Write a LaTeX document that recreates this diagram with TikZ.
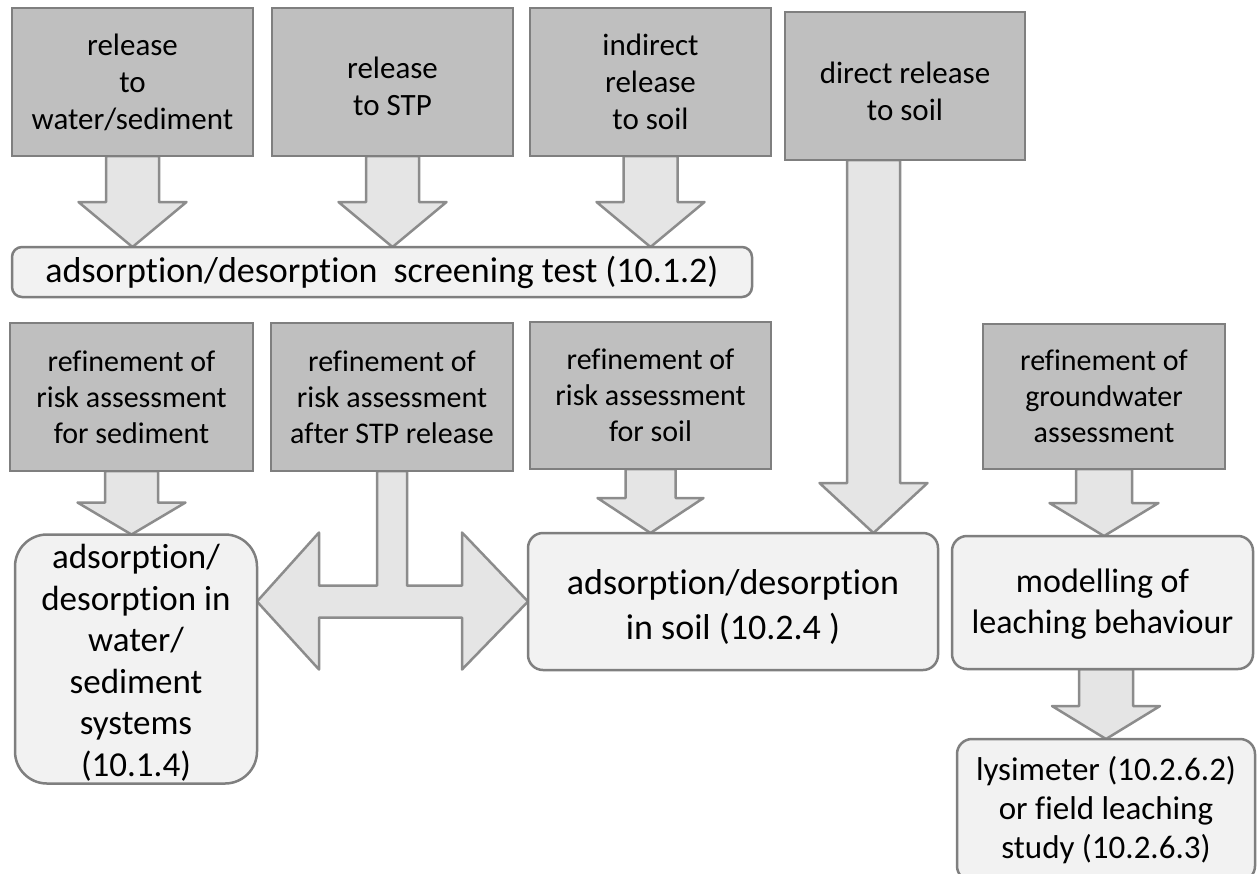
\documentclass[tikz,border=0pt]{standalone}
\usepackage{fontspec}
\setmainfont{Carlito}[Ligatures=NoCommon]
\usetikzlibrary{backgrounds,calc}
\definecolor{darkbox}{HTML}{BFBFBF}
\definecolor{boxline}{HTML}{7F7F7F}
\definecolor{lightbox}{HTML}{F2F2F2}
\definecolor{arrowfill}{HTML}{E5E5E5}
\definecolor{arrowline}{HTML}{8C8C8C}
% #1 start (top) coordinate, #2 tip coordinate, #3 half shaft, #4 half head, #5 head length
\newcommand\vblock[5]{%
  \draw[blockarrow] let \p1=(#1), \p2=(#2) in
    (\x2-#3,\y1) -- (\x2-#3,\y2+#5) -- (\x2-#4,\y2+#5) -- (\x2,\y2)
    -- (\x2+#4,\y2+#5) -- (\x2+#3,\y2+#5) -- (\x2+#3,\y1) -- cycle;}
% multi-line text drawn #1 lower than its centred place
\newcommand\lowtext[2]{\raisebox{-#1}[\height][\depth]{\begin{tabular}{@{}c@{}}#2\end{tabular}}}
\begin{document}
\begin{tikzpicture}[x=1pt,y=-1pt,
  srcbox/.style={draw=boxline, fill=darkbox, line width=2.5pt, inner sep=0pt,
    outer sep=0pt, align=center, font=\fontsize{31}{37}\selectfont},
  refbox/.style={srcbox, font=\fontsize{30}{36}\selectfont},
  testbox/.style={draw=boxline, fill=lightbox, line width=2.5pt, inner sep=0pt,
    outer sep=0pt, align=center, rounded corners=#1},
  testbox/.default=15pt,
  blockarrow/.style={draw=arrowline, fill=arrowfill, line width=2.5pt, line join=round}]
\useasboundingbox (0,0) rectangle (1257,873);
% top row
\node[srcbox, minimum width=241pt, minimum height=148pt] (t1) at (132.5,82) {\lowtext{3pt}{release\\to\\water/sediment}};
\node[srcbox, minimum width=241pt, minimum height=148pt] (t2) at (392.5,82) {\lowtext{8pt}{release\\to STP}};
\node[srcbox, minimum width=241pt, minimum height=148pt] (t3) at (650.5,82) {\lowtext{3pt}{indirect\\release\\to soil}};
\node[srcbox, minimum width=240pt, minimum height=148pt] (t4) at (905,86) {\lowtext{9pt}{direct release\\to soil}};
\node[testbox=10pt, minimum width=740pt, minimum height=50pt, font=\fontsize{36}{43}\selectfont] (scr) at (382,272)
  {adsorption/desorption\hspace{0.45em}screening test (10.1.2)};
% second row
\node[refbox, minimum width=243pt, minimum height=148pt] (r1) at (131.5,397) {refinement of\\risk assessment\\for sediment};
\node[refbox, minimum width=242pt, minimum height=148pt] (r2) at (392,397) {refinement of\\risk assessment\\after STP release};
\node[refbox, minimum width=241pt, minimum height=147pt] (r3) at (650.5,395.5) {refinement of\\risk assessment\\for soil};
\node[refbox, minimum width=242pt, minimum height=145pt] (r4) at (1104,396.5) {refinement of\\groundwater\\assessment};
% third row
\node[testbox=32pt, minimum width=242pt, minimum height=248pt, font=\fontsize{35}{41.5}\selectfont] (ws) at (136,659)
  {\lowtext{5pt}{adsorption/\\desorption in\\water/\\sediment\\systems\\(10.1.4)}};
\node[testbox, minimum width=410pt, minimum height=137pt, font=\fontsize{36}{45}\selectfont] (soil) at (733,601.5)
  {\lowtext{6pt}{adsorption/desorption\\in soil (10.2.4 )}};
\node[testbox, minimum width=301pt, minimum height=133pt, font=\fontsize{34}{41}\selectfont] (model) at (1102.5,602.5)
  {\lowtext{2pt}{modelling of\\leaching behaviour}};
\node[testbox, minimum width=298pt, minimum height=142pt, font=\fontsize{33}{39}\selectfont] (lys) at (1106,810)
  {lysimeter (10.2.6.2)\\or field leaching\\study (10.2.6.3)};
\coordinate (t4a) at ([xshift=-31.5pt]t4.south);
% arrows
\begin{scope}[on background layer]
\vblock{t1.south}{t1.south |- scr.north}{26.5pt}{54pt}{45pt}
\vblock{t2.south}{t2.south |- scr.north}{26.5pt}{54pt}{45pt}
\vblock{t3.south}{t3.south |- scr.north}{27pt}{54pt}{45pt}
\vblock{t4a}{t4a |- soil.north}{26.5pt}{54pt}{50pt}
\vblock{r1.south}{r1.south |- ws.north}{26.5pt}{54pt}{32pt}
\vblock{r3.south}{r3.south |- soil.north}{25pt}{53pt}{35pt}
\vblock{r4.south}{r4.south |- model.north}{28pt}{54.5pt}{33pt}
\vblock{model.south}{lys.north}{27pt}{54pt}{33pt}
\draw[blockarrow] let \p1=(r2.south), \p2=(ws.east), \p3=(soil.west) in
  (\x1-15pt,\y1) -- (\x1-15pt,\y3+16pt) -- (\x2+62pt,\y3+16pt) -- (\x2+62pt,\y3+69pt)
  -- (\x2,\y3) -- (\x2+62pt,\y3-68pt) -- (\x2+62pt,\y3-16pt) -- (\x3-66pt,\y3-16pt)
  -- (\x3-66pt,\y3-68pt) -- (\x3,\y3) -- (\x3-66pt,\y3+69pt) -- (\x3-66pt,\y3+16pt)
  -- (\x1+15pt,\y3+16pt) -- (\x1+15pt,\y1) -- cycle;
\end{scope}
\end{tikzpicture}
\end{document}
